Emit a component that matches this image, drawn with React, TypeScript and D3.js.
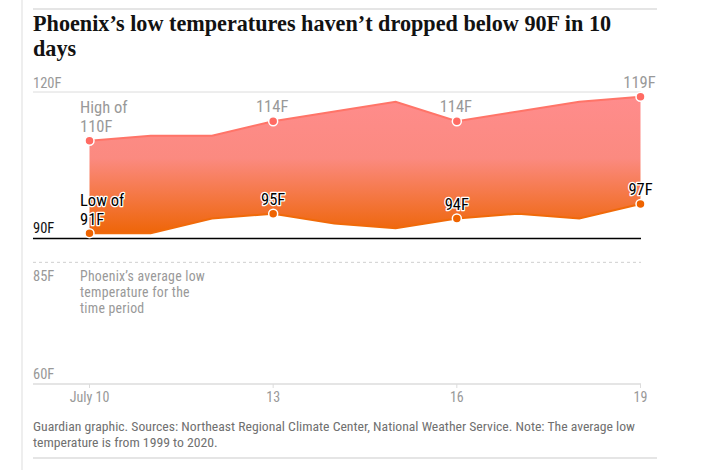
import React from "react";
import * as d3 from "d3";

const days = [10, 11, 12, 13, 14, 15, 16, 17, 18, 19];
const highs = [110, 111, 111, 114, 116, 118, 114, 116, 118, 119];
const lows = [91, 91, 94, 95, 93, 92, 94, 95, 94, 97];
const tickDays = [10, 13, 16, 19];
const tickLabels = ["July 10", "13", "16", "19"];
const labelIdx = [3, 6, 9];
const avgLow = 85;

const W = 708;
const H = 470;
const SANS = "'Liberation Sans Narrow', 'Arial Narrow', 'Roboto Condensed', Roboto, sans-serif";
const SERIF = "'Liberation Serif', 'DejaVu Serif', serif";

export default function App() {
  const x = d3.scaleLinear().domain([10, 19]).range([89.5, 640.5]);
  const y = d3.scaleLinear().domain([60, 120]).range([384, 92]);
  const gx0 = 33;
  const gx1 = 641;

  const area = d3
    .area<number>()
    .x((_, i) => x(days[i]))
    .y0((_, i) => y(lows[i]))
    .y1((_, i) => y(highs[i]));
  const hiLine = d3.line<number>().x((_, i) => x(days[i])).y((d) => y(d));
  const loLine = d3.line<number>().x((_, i) => x(days[i])).y((d) => y(d));

  return (
    <svg
      width={W}
      height={H}
      style={{ position: "absolute", left: 0, top: 0, background: "#fff" }}
    >
      <defs>
        <linearGradient id="fillGrad" x1="0" y1="0" x2="0" y2="1">
          <stop offset="0%" stopColor="#ff8c8c" />
          <stop offset="45%" stopColor="#fb8a80" />
          <stop offset="100%" stopColor="#ee6508" />
        </linearGradient>
      </defs>
      {/* frame lines */}
      <line x1={22} x2={22} y1={0} y2={H} stroke="#e8e8e8" strokeWidth={1.5} />
      <line x1={33} x2={657} y1={9} y2={9} stroke="#dcdcdc" strokeWidth={1.5} />
      <line x1={33} x2={657} y1={458} y2={458} stroke="#dcdcdc" strokeWidth={1.5} />

      {/* title */}
      <text fontFamily={SERIF} fontWeight={700} fontSize={22.2} fill="#121212">
        <tspan x={33} y={31}>Phoenix’s low temperatures haven’t dropped below 90F in 10</tspan>
        <tspan x={33} y={56}>days</tspan>
      </text>

      {/* grid */}
      <line x1={gx0} x2={gx1} y1={y(120)} y2={y(120)} stroke="#dcdcdc" strokeWidth={1} />
      <line x1={gx0} x2={gx1} y1={y(avgLow)} y2={y(avgLow)} stroke="#cfcfcf" strokeWidth={1} strokeDasharray="3,3" />
      <line x1={gx0} x2={gx1} y1={y(60)} y2={y(60)} stroke="#dcdcdc" strokeWidth={1.5} />

      <g fontFamily={SANS} fontSize={14.5}>
        <text x={33} y={y(120) - 4} fill="#999">120F</text>
        <text x={33} y={y(90) - 5} fill="#121212">90F</text>
        <text x={33} y={281} fill="#999">{avgLow}F</text>
        <text x={33} y={y(60) - 5} fill="#999">60F</text>
      </g>

      {/* x axis */}
      {tickDays.map((d, i) => (
        <g key={d}>
          <line x1={x(d)} x2={x(d)} y1={y(60)} y2={y(60) + 4} stroke="#dcdcdc" />
          <text x={x(d)} y={402} textAnchor="middle" fontFamily={SANS} fontSize={14} fill="#999">
            {tickLabels[i]}
          </text>
        </g>
      ))}

      {/* area and lines */}
      <path d={area(highs) || ""} fill="url(#fillGrad)" />
      <path d={hiLine(highs) || ""} fill="none" stroke="#ff7468" strokeWidth={2} />
      <path d={loLine(lows) || ""} fill="none" stroke="#f06a0a" strokeWidth={2} />

      {/* 90F baseline */}
      <line x1={gx0} x2={gx1} y1={y(90) + 0.5} y2={y(90) + 0.5} stroke="#000" strokeWidth={1.5} />

      {[0, ...labelIdx].map((i) => (
        <g key={i}>
          <circle cx={x(days[i])} cy={y(highs[i])} r={4.5} fill="#ff6b63" stroke="#fff" strokeWidth={1.5} />
          <circle cx={x(days[i])} cy={y(lows[i])} r={4.5} fill="#ee6300" stroke="#fff" strokeWidth={1.5} />
        </g>
      ))}

      {/* labels */}
      <g fontFamily={SANS} fontSize={16.5}>
        <text x={80} fill="#999">
          <tspan x={80} y={113}>High of</tspan>
          <tspan x={80} y={132}>{highs[0]}F</tspan>
        </text>
        <text x={80} fill="#000" stroke="#fff" strokeWidth={2.5} paintOrder="stroke" strokeLinejoin="round">
          <tspan x={80} y={206}>Low of</tspan>
          <tspan x={80} y={225}>{lows[0]}F</tspan>
        </text>
        {labelIdx.map((i) => (
          <g key={i}>
            <text x={x(days[i]) - 1} y={y(highs[i]) - 9} textAnchor="middle" fill="#999">
              {highs[i]}F
            </text>
            <text
              x={x(days[i])}
              y={y(lows[i]) - 9}
              textAnchor="middle"
              fill="#000"
              stroke="#fff"
              strokeWidth={2.5}
              paintOrder="stroke"
              strokeLinejoin="round"
            >
              {lows[i]}F
            </text>
          </g>
        ))}
      </g>

      {/* annotation */}
      <text fontFamily={SANS} fontSize={13.8} fill="#999" letterSpacing={0.25}>
        <tspan x={80} y={281}>Phoenix’s average low</tspan>
        <tspan x={80} y={297}>temperature for the</tspan>
        <tspan x={80} y={313}>time period</tspan>
      </text>

      {/* footer */}
      <text fontFamily={SANS} fontSize={13.7} fill="#707070">
        <tspan x={33} y={431}>
          Guardian graphic. Sources: Northeast Regional Climate Center, National Weather Service. Note: The average low
        </tspan>
        <tspan x={33} y={447}>temperature is from 1999 to 2020.</tspan>
      </text>
    </svg>
  );
}
